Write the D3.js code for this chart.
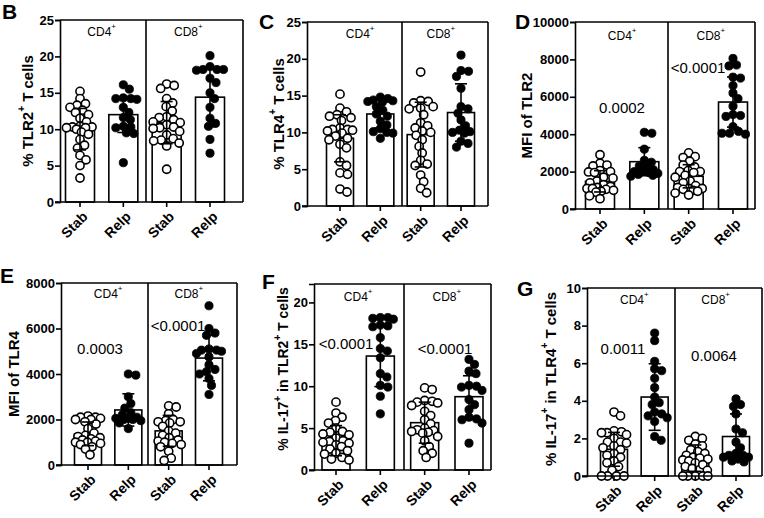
<!DOCTYPE html>
<html><head><meta charset="utf-8">
<script src="https://cdn.jsdelivr.net/npm/d3@7"></script>
<style>
body{margin:0;background:#fff}
svg{display:block}
text{font-family:"Liberation Sans",Arial,Helvetica,sans-serif;fill:#000}
</style>
</head><body>
<svg id="chart" width="764" height="518"></svg>
<script>
// ---------------- DATA ----------------
const groups = ["Stab", "Relp", "Stab", "Relp"];
const subsets = ["CD4", "CD8"];

// B: % TLR2+ T cells
const B_points = [
  [15.2,14.2,13.5,13.3,13.0,12.6,12.3,12.0,11.5,11.0,10.4,10.3,10.3,10.2,10.2,10.0,9.6,9.3,8.6,7.8,7.4,6.4,5.8,5.0,3.3],
  [16.1,15.5,14.3,14.2,14.2,14.1,13.0,12.3,11.6,11.3,10.4,10.3,10.2,9.5,9.4,5.4],
  [16.2,16.0,15.6,14.2,13.6,13.1,12.5,11.7,11.6,11.3,11.0,10.9,10.6,10.3,10.2,10.1,9.7,9.2,8.7,8.5,8.4,8.1,7.7,4.5],
  [20.1,18.6,18.2,18.2,18.2,18.1,17.0,16.4,15.0,14.2,13.0,11.5,10.8,10.4,8.6,6.7]
];
const B_means = [10.0, 12.0, 10.9, 14.4];
const B_sds = [2.85, 2.45, 2.9, 4.05];
const B_ticks = [0, 5, 10, 15, 20, 25];

// C: % TLR4+ T cells
const C_points = [
  [15.2,13.3,12.8,12.4,12.2,12.0,11.6,10.6,10.4,10.4,10.3,10.2,9.9,9.5,9.2,9.0,8.4,7.9,6.0,5.5,4.5,4.3,2.3,1.9],
  [14.8,14.6,14.4,14.3,14.2,14.1,13.5,13.0,12.5,12.2,11.5,11.0,10.5,10.1,10.0,9.9,9.2],
  [18.2,14.3,14.2,14.0,13.5,13.3,13.2,12.4,11.3,10.9,10.6,10.2,10.0,9.6,9.0,8.1,7.2,6.2,5.7,5.5,4.2,3.3,2.4,1.8],
  [20.5,18.4,18.3,17.6,16.0,13.5,13.2,12.6,11.7,10.9,10.3,10.1,10.0,9.9,8.8,8.5,8.0]
];
const C_means = [9.2, 12.5, 9.7, 12.7];
const C_sds = [3.2, 1.9, 4.4, 3.9];
const C_ticks = [0, 5, 10, 15, 20, 25];

// D: MFI of TLR2
const D_points = [
  [2900,2450,2350,2300,2050,2000,1980,1950,1700,1650,1500,1400,1300,1200,1150,1100,1100,1050,1000,950,900,700,550],
  [4100,4050,3200,2600,2500,2300,2200,2100,2000,2000,1950,1900,1850,1800,1750],
  [3000,2800,2750,2550,2350,2250,2050,2000,2000,1950,1800,1700,1500,1400,1250,1150,1100,1100,1050,1000,950,850,750],
  [8050,7700,7650,7050,7000,6600,6200,5900,5500,5050,5000,4950,4400,4150,4050,4050,4000]
];
const D_means = [1480, 2530, 1750, 5720];
const D_sds = [570, 750, 620, 1340];
const D_ticks = [0, 2000, 4000, 6000, 8000, 10000];
const D_pvalues = ["0.0002", "<0.0001"];

// E: MFI of TLR4
const E_points = [
  [2150,2100,2100,2050,2000,2000,1900,1800,1600,1400,1300,1250,1200,1150,1100,1050,1000,1000,950,900,800,700,450],
  [4000,3950,3000,2700,2500,2300,2200,2100,2050,2050,2000,2000,1950,1850,1600],
  [2600,2550,2250,2000,1950,1900,1900,1850,1700,1500,1400,1300,1200,1100,1050,1000,950,900,800,600,300,200],
  [7000,6000,5800,5700,5100,5050,5050,5000,4900,4750,4400,4200,4100,4000,3800,3500,3100]
];
const E_means = [1370, 2420, 1500, 4700];
const E_sds = [520, 710, 680, 1000];
const E_ticks = [0, 2000, 4000, 6000, 8000];
const E_pvalues = ["0.0003", "<0.0001"];

// F: % IL-17+ in TLR2+ T cells
const F_points = [
  [8.1,6.8,6.3,5.9,5.6,5.0,4.6,4.5,4.3,4.2,3.8,3.5,3.4,3.3,3.2,3.0,2.8,2.5,2.3,2.0,1.9,1.5,1.3,1.2],
  [18.2,18.2,18.1,18.0,17.3,17.2,17.1,15.8,14.5,14.2,13.4,11.5,11.1,10.1,9.9,8.8,6.7],
  [9.8,9.6,8.3,8.2,8.1,8.0,7.7,7.0,6.5,6.0,5.5,5.0,4.8,4.7,4.6,4.5,4.4,4.0,3.5,2.8,2.3,2.0,1.5],
  [13.2,12.6,11.8,11.5,10.1,10.0,9.9,9.5,8.4,7.8,7.2,6.3,6.1,6.0,5.6,3.2]
];
const F_means = [3.5, 13.6, 5.65, 8.75];
const F_sds = [1.8, 3.65, 2.45, 2.5];
const F_ticks = [0, 5, 10, 15, 20];
const F_pvalues = ["<0.0001", "<0.0001"];

// G: % IL-17+ in TLR4+ T cells
const G_points = [
  [3.4,3.2,2.4,2.35,2.3,2.3,2.2,2.0,1.8,1.8,1.75,1.6,1.5,1.4,1.2,1.1,1.0,0.8,0.7,0.5,0.3,0,0,0,0],
  [7.6,7.2,6.1,5.7,5.6,5.2,4.7,4.2,3.9,3.8,3.4,3.3,3.2,3.1,2.9,2.1,1.9],
  [2.1,2.0,1.9,1.7,1.6,1.4,1.3,1.2,1.1,1.0,0.95,0.9,0.85,0.8,0.7,0.6,0.5,0.4,0.3,0,0,0,0,0],
  [4.1,3.8,3.7,3.3,2.5,2.3,1.8,1.5,1.2,1.1,1.1,1.0,1.0,0.9,0.8,0.75]
];
const G_means = [1.42, 4.2, 0.95, 2.1];
const G_sds = [0.9, 1.77, 0.7, 1.2];
const G_ticks = [0, 2, 4, 6, 8, 10];
const G_pvalues = ["0.0011", "0.0064"];

// ---------------- LAYOUT ----------------
const panels = [
  {letter:"B", pts:B_points, means:B_means, sds:B_sds, ticks:B_ticks, ymax:25, pv:null,
   title:[["% TLR2",0],["+",1],[" T cells",0]],
   L:{ax:60,right:243,top:20,bottom:202,div:146,c0:80,c3:210,bw:29,lx:2,ly:19,tx:27,tfs:15,cdy:12}},
  {letter:"C", pts:C_points, means:C_means, sds:C_sds, ticks:C_ticks, ymax:25, pv:null,
   title:[["% TLR4",0],["+",1],[" T cells",0]],
   L:{ax:307,right:488,top:22,bottom:206,div:402,c0:340,c3:461,bw:27,lx:259,ly:29,tx:278,tfs:15,cdy:12}},
  {letter:"D", pts:D_points, means:D_means, sds:D_sds, ticks:D_ticks, ymax:10000, pv:D_pvalues,
   title:[["MFI of TLR2",0]],
   L:{ax:575,right:755,top:22,bottom:209,div:668,c0:600,c3:733,bw:29,lx:515,ly:29,tx:526,tfs:15,cdy:14,
      pxy:[[622,107],[698,67]]}},
  {letter:"E", pts:E_points, means:E_means, sds:E_sds, ticks:E_ticks, ymax:8000, pv:E_pvalues,
   title:[["MFI of TLR4",0]],
   L:{ax:61,right:237,top:283,bottom:465,div:148,c0:88,c3:209,bw:27,lx:0,ly:283,tx:13,tfs:15,cdy:11,
      pxy:[[100,348],[178,325]]}},
  {letter:"F", pts:F_points, means:F_means, sds:F_sds, ticks:F_ticks, ymax:22.2, pv:F_pvalues,
   title:[["% IL-17",0],["+",1],[" in TLR2",0],["+",1],[" T cells",0]],
   L:{ax:314,right:491,top:284,bottom:470,div:404,c0:336,c3:469,bw:28,lx:262,ly:289,tx:283,tfs:14,ty:369,cdy:13,
      pxy:[[346,343],[445,348]]}},
  {letter:"G", pts:G_points, means:G_means, sds:G_sds, ticks:G_ticks, ymax:10, pv:G_pvalues,
   title:[["% IL-17",0],["+",1],[" in TLR4",0],["+",1],[" T cells",0]],
   L:{ax:587,right:762,top:288,bottom:476,div:675,c0:614,c3:736,bw:27,lx:517,ly:296,tx:550,tfs:15,ty:379,cdy:12,
      pxy:[[623,348],[714,355]]}}
];

const svg = d3.select("#chart");
const SW = 1.6, R = 4.1, MIN_D = 7.2;

function swarm(vals, y, cx, maxOff) {
  const order = vals.map((v,i)=>i).sort((a,b)=>vals[b]-vals[a]);
  const placed = [];
  const out = new Array(vals.length);
  const cands = [0];
  for (let k = 1; k * 0.5 <= maxOff; k++) { cands.push(k*0.5, -k*0.5); }
  for (const i of order) {
    const py = y(vals[i]);
    let chosen = null, bestOff = 0, bestD = -1;
    for (const off of cands) {
      let md = Infinity;
      for (const p of placed) {
        const dx = cx + off - p[0], dy = py - p[1];
        md = Math.min(md, Math.sqrt(dx*dx + dy*dy));
      }
      if (md >= MIN_D) { chosen = off; break; }
      if (md > bestD + 0.3) { bestD = md; bestOff = off; }
    }
    if (chosen === null) chosen = bestOff;
    placed.push([cx + chosen, py]);
    out[i] = [cx + chosen, py];
  }
  return out;
}

panels.forEach(P => {
  const L = P.L;
  const g = svg.append("g");
  const y = d3.scaleLinear().domain([0, P.ymax]).range([L.bottom, L.top]);
  const x = d3.scalePoint().domain(d3.range(groups.length)).range([L.c0, L.c3]);

  // panel letter
  g.append("text").attr("x", L.lx).attr("y", L.ly)
    .attr("font-size", 21).attr("font-weight", "bold").text(P.letter);

  // box: top, right, divider
  g.append("line").attr("x1", L.ax).attr("x2", L.right).attr("y1", L.top).attr("y2", L.top)
    .attr("stroke", "#000").attr("stroke-width", SW);
  g.append("line").attr("x1", L.right).attr("x2", L.right).attr("y1", L.top).attr("y2", L.bottom)
    .attr("stroke", "#000").attr("stroke-width", SW);
  g.append("line").attr("x1", L.div).attr("x2", L.div).attr("y1", L.top).attr("y2", L.bottom)
    .attr("stroke", "#000").attr("stroke-width", SW);

  // bars
  g.selectAll("rect.bar").data(P.means).enter().append("rect")
    .attr("x", (d,i) => x(i) - L.bw/2).attr("width", L.bw)
    .attr("y", d => y(d)).attr("height", d => y(0) - y(d))
    .attr("fill", "#fff").attr("stroke", "#000").attr("stroke-width", SW);

  // points
  P.pts.forEach((vals, gi) => {
    const pos = swarm(vals, y, x(gi), L.bw / 2 - 1);
    const filled = groups[gi] === "Relp";
    g.selectAll(null).data(pos).enter().append("circle")
      .attr("cx", d => d[0]).attr("cy", d => d[1]).attr("r", R)
      .attr("fill", filled ? "#000" : "#fff")
      .attr("stroke", "#000").attr("stroke-width", filled ? 0.8 : 1.6);
  });

  // error bars (mean ± SD)
  P.means.forEach((m, i) => {
    const s = P.sds[i], cx = x(i), cw = 6;
    const lo = Math.max(0, m - s), hi = m + s;
    g.append("line").attr("x1", cx).attr("x2", cx).attr("y1", y(lo)).attr("y2", y(hi))
      .attr("stroke", "#000").attr("stroke-width", SW);
    [lo, hi].forEach(v => g.append("line").attr("x1", cx - cw).attr("x2", cx + cw)
      .attr("y1", y(v)).attr("y2", y(v)).attr("stroke", "#000").attr("stroke-width", SW));
  });

  // y axis
  const ya = g.append("g").attr("transform", `translate(${L.ax},0)`)
    .call(d3.axisLeft(y).tickValues(P.ticks).tickSize(5).tickPadding(1).tickFormat(d3.format("d")));
  ya.select(".domain").attr("stroke-width", SW);
  ya.selectAll(".tick line").attr("stroke-width", SW);
  ya.selectAll(".tick text").attr("font-size", 13).attr("font-weight", "bold")
    .attr("font-family", '"Liberation Sans",Arial,sans-serif').attr("fill", "#000");

  // x axis line (baseline) + ticks
  g.append("line").attr("x1", L.ax - 5).attr("x2", L.right).attr("y1", L.bottom).attr("y2", L.bottom)
    .attr("stroke", "#000").attr("stroke-width", SW);
  groups.forEach((gname, i) => {
    g.append("line").attr("x1", x(i)).attr("x2", x(i)).attr("y1", L.bottom).attr("y2", L.bottom + 5)
      .attr("stroke", "#000").attr("stroke-width", SW);
    g.append("text")
      .attr("transform", `translate(${x(i) + 5},${L.bottom + 12}) rotate(-45)`)
      .attr("text-anchor", "end").attr("font-size", 14).attr("font-weight", "bold")
      .attr("dy", "0.35em").text(gname);
  });

  // subset labels
  subsets.forEach((s, k) => {
    const cx = (x(2*k) + x(2*k+1)) / 2;
    const t = g.append("text").attr("x", cx).attr("y", L.top + L.cdy)
      .attr("text-anchor", "middle").attr("font-size", 12).attr("dominant-baseline", "central");
    t.append("tspan").text(s);
    t.append("tspan").attr("font-size", 8).attr("dy", -6).text("+");
  });

  // p values
  if (P.pv) {
    P.pv.forEach((p, k) => {
      g.append("text").attr("x", L.pxy[k][0]).attr("y", L.pxy[k][1])
        .attr("text-anchor", "middle").attr("dominant-baseline", "central")
        .attr("font-size", 15).text(p);
    });
  }

  // y title
  const ty = L.ty !== undefined ? L.ty : (L.top + L.bottom) / 2;
  const tt = g.append("text").attr("transform", `translate(${L.tx},${ty}) rotate(-90)`)
    .attr("text-anchor", "middle").attr("dominant-baseline", "central")
    .attr("font-size", L.tfs).attr("font-weight", "bold");
  let sup = false;
  P.title.forEach(([txt, isSup]) => {
    const sp = tt.append("tspan").text(txt);
    if (isSup && !sup) { sp.attr("font-size", 10).attr("dy", -6); sup = true; }
    else if (!isSup && sup) { sp.attr("dy", 6); sup = false; }
  });
});
</script>
</body></html>
